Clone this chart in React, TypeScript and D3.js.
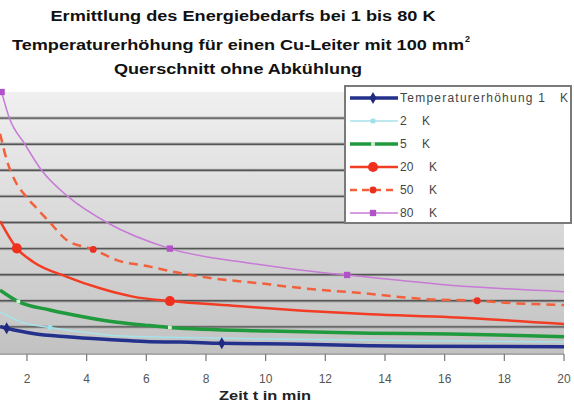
import React from 'react';
import * as d3 from 'd3';

// Title lines
const titleLines = [
  'Ermittlung des Energiebedarfs bei 1 bis 80 K',
  'Temperaturerhöhung für einen Cu-Leiter mit 100 mm',
  'Querschnitt  ohne Abkühlung',
];
const xAxisTitle = 'Zeit t in min';

// Temperature rise curves: time t (min) and energy demand (grid units)
const t1K = [1.1, 1.32, 2.2, 3.34, 5.02, 6.12, 7.13, 8.53, 11.25, 13.5, 15.07, 20];
const v1K = [1.01, 0.95, 0.75, 0.62, 0.5, 0.43, 0.42, 0.37, 0.34, 0.28, 0.26, 0.24];
const m1K_t = [1.32, 8.53];
const m1K_v = [0.95, 0.37];

const t2K = [1.1, 1.77, 2.77, 3.88, 5.02, 6.79, 10.15, 16.18, 20];
const v2K = [1.58, 1.2, 0.98, 0.8, 0.66, 0.6, 0.54, 0.46, 0.42];
const m2K_t = [2.77];
const m2K_v = [0.98];

const t5K = [1.1, 1.71, 2.77, 3.88, 5.02, 6.12, 6.79, 10.15, 13.5, 16.18, 18.8, 20];
const v5K = [2.41, 1.97, 1.65, 1.39, 1.18, 1.05, 0.98, 0.84, 0.76, 0.73, 0.66, 0.62];
const m5K_t = [1.71, 6.79];
const m5K_v = [1.97, 0.98];

const t20K = [1.1, 1.66, 2.2, 3.34, 4.45, 5.55, 6.79, 9.04, 11.25, 13.5, 16.18, 20];
const v20K = [5.05, 4.01, 3.5, 2.92, 2.48, 2.16, 1.99, 1.8, 1.62, 1.48, 1.37, 1.11];
const m20K_t = [1.66, 6.79];
const m20K_v = [4.01, 1.99];

const t50K = [1.1, 1.32, 1.6, 1.93, 2.33, 2.77, 3.33, 4.22, 5.01, 6.12, 6.9, 8.24, 9.81, 11.25, 13.26, 15.28, 17.09, 18.43, 20];
const v50K = [8.4, 7.4, 6.6, 6.05, 5.54, 5.0, 4.33, 3.97, 3.56, 3.31, 3.11, 2.86, 2.67, 2.48, 2.29, 2.07, 2.0, 1.9, 1.84];
const m50K_t = [4.22, 17.09];
const m50K_v = [3.97, 2.0];

const t80K = [1.15, 1.41, 1.93, 2.49, 3.37, 4.68, 6.79, 9.48, 12.16, 12.73, 16.18, 20];
const v80K = [10, 9, 8, 7, 6, 5, 4, 3.44, 3.05, 2.99, 2.6, 2.35];
const m80K_t = [1.15, 6.79, 12.73];
const m80K_v = [10, 4, 2.99];

const legendLabels = ['Temperaturerhöhung 1', '2', '5', '20', '50', '80'];
const legendUnit = 'K';

type Series = {
  t: number[];
  v: number[];
  mt: number[];
  mv: number[];
  color: string;
  width: number;
  dash?: string;
  symbol: d3.SymbolType;
  size: number;
  markerFill: string;
};

const series: Series[] = [
  { t: t1K, v: v1K, mt: m1K_t, mv: m1K_v, color: '#24318c', width: 3.5, symbol: d3.symbolDiamond, size: 42, markerFill: '#1f2a80' },
  { t: t2K, v: v2K, mt: m2K_t, mv: m2K_v, color: '#a6e2ea', width: 1.5, symbol: d3.symbolSquare, size: 22, markerFill: '#9fe0ea' },
  { t: t5K, v: v5K, mt: m5K_t, mv: m5K_v, color: '#1f9a3c', width: 3.5, symbol: d3.symbolSquare, size: 14, markerFill: '#d6eed6' },
  { t: t20K, v: v20K, mt: m20K_t, mv: m20K_v, color: '#f23c24', width: 2.5, symbol: d3.symbolCircle, size: 80, markerFill: '#f0301e' },
  { t: t50K, v: v50K, mt: m50K_t, mv: m50K_v, color: '#f2603c', width: 2.5, dash: '9 6', symbol: d3.symbolCircle, size: 38, markerFill: '#e83020' },
  { t: t80K, v: v80K, mt: m80K_t, mv: m80K_v, color: '#c77ad6', width: 1.5, symbol: d3.symbolSquare, size: 40, markerFill: '#b252c8' },
];

const W = 574;
const H = 409;
const plotTop = 92;
const plotBottom = 353;
const plotRight = 564;

export default function App() {
  const x = d3.scaleLinear().domain([0, 20]).range([-32.7, plotRight]);
  const y = d3.scaleLinear().domain([0, 10]).range([plotBottom, plotTop]);
  const plotLeft = x(0);
  // the axis starts off the left edge, so only ticks from 2 on are in view
  const xTicks = x.ticks(10).filter((t) => x(t) > 0);
  const yGrid = y.ticks(10).filter((d) => d > 0 && d < 10);

  const line = (s: Series) =>
    d3
      .line<number>()
      .x((_, i) => x(s.t[i]))
      .y((d) => y(d))
      .curve(d3.curveMonotoneX)(s.v) || '';

  const legendX = 345;
  const legendY = 86;
  const legendW = 226;
  const legendH = 137;
  const rowY = [98, 121, 144, 167, 190, 213];

  return (
    <svg
      width={W}
      height={H}
      style={{ position: 'absolute', left: 0, top: 0, background: '#fff' }}
      fontFamily="'Liberation Sans', Arial, sans-serif"
    >
      <defs>
        <linearGradient id="plotBg" x1="0" y1="0" x2="0" y2="1">
          <stop offset="0" stopColor="#f0f0f0" />
          <stop offset="1" stopColor="#c2c2c2" />
        </linearGradient>
        <clipPath id="plotClip">
          <rect x={plotLeft} y={plotTop} width={plotRight - plotLeft} height={plotBottom - plotTop} />
        </clipPath>
      </defs>

      {/* title */}
      <g fontWeight="bold" fill="#111" textAnchor="middle" fontSize={14.5}>
        <text x={243} y={21} textLength={385} lengthAdjust="spacingAndGlyphs">{titleLines[0]}</text>
        <text x={238} y={50} textLength={452} lengthAdjust="spacingAndGlyphs">{titleLines[1]}</text>
        <text x={465} y={42} fontSize={9} textAnchor="start">2</text>
        <text x={238} y={74} textLength={248} lengthAdjust="spacingAndGlyphs">{titleLines[2]}</text>
      </g>

      {/* plot area */}
      <rect x={plotLeft} y={plotTop} width={plotRight - plotLeft} height={plotBottom - plotTop} fill="url(#plotBg)" />
      {yGrid.map((g) => (
        <g key={g}>
          <line x1={plotLeft} x2={plotRight} y1={y(g)} y2={y(g)} stroke="#9a9a9a" strokeWidth={3.2} opacity={0.6} />
          <line x1={plotLeft} x2={plotRight} y1={y(g)} y2={y(g)} stroke="#555" strokeWidth={1.4} />
        </g>
      ))}
      <line x1={plotLeft} x2={plotRight} y1={plotBottom + 1} y2={plotBottom + 1} stroke="#8c8c8c" strokeWidth={1.5} />

      {/* x axis */}
      {xTicks.map((t) => (
        <g key={t}>
          <line x1={x(t)} x2={x(t)} y1={plotBottom + 1} y2={plotBottom + 8} stroke="#777" strokeWidth={1.2} />
          <text x={x(t)} y={383} textAnchor="middle" fontSize={12} fill="#555">{t}</text>
        </g>
      ))}
      <text x={265} y={400} textAnchor="middle" fontSize={12} fontWeight="bold" fill="#222" textLength={92} lengthAdjust="spacingAndGlyphs">{xAxisTitle}</text>

      {/* curves */}
      <g clipPath="url(#plotClip)">
        {series.map((s, i) => (
          <path key={i} d={line(s)} fill="none" stroke={s.color} strokeWidth={s.width} strokeDasharray={s.dash} strokeLinecap="butt" />
        ))}
      </g>
      {series.map((s, i) => (
        <g key={i}>
          {s.mt.map((mt, j) => (
            <path
              key={j}
              transform={`translate(${x(mt)},${y(s.mv[j])})`}
              d={d3.symbol().type(s.symbol).size(s.size)() || ''}
              fill={s.markerFill}
            />
          ))}
        </g>
      ))}

      {/* legend */}
      <rect x={legendX} y={legendY} width={legendW} height={legendH} fill="#fff" stroke="#7a7a7a" strokeWidth={2} />
      {series.map((s, i) => (
        <g key={i}>
          <line x1={350} x2={398} y1={rowY[i]} y2={rowY[i]} stroke={s.color} strokeWidth={s.width} strokeDasharray={s.dash ? '7 5' : undefined} />
          <path transform={`translate(373,${rowY[i]})`} d={d3.symbol().type(s.symbol).size(s.size)() || ''} fill={s.markerFill} />
          <text
            x={400}
            y={rowY[i] + 4}
            fontSize={12}
            fill="#444"
            textLength={i === 0 ? 145 : undefined}
            lengthAdjust={i === 0 ? 'spacing' : undefined}
          >
            {legendLabels[i]}
          </text>
          <text x={i === 0 ? 560 : legendLabels[i].length > 1 ? 429 : 422} y={rowY[i] + 4} fontSize={12} fill="#444">{legendUnit}</text>
        </g>
      ))}
    </svg>
  );
}
